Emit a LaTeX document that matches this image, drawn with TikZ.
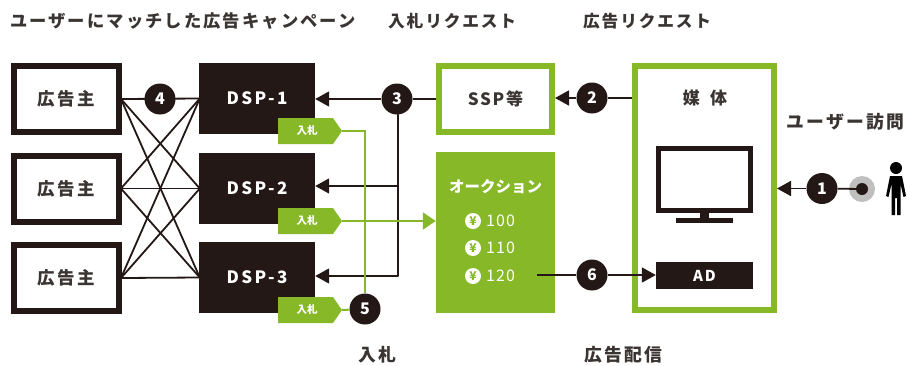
\documentclass[tikz,border=0pt]{standalone}
\usepackage{fontspec}
\setmainfont{Noto Sans CJK JP}
\usetikzlibrary{arrows.meta}
\definecolor{adgreen}{HTML}{86B828}
\definecolor{adblack}{HTML}{231815}
\definecolor{adtext}{HTML}{3A3533}
\newcommand{\bidtag}[2]{%
  \fill[adgreen] (278,#2-13) -- (333,#2-13) -- (342,#2) -- (333,#2+13) -- (278,#2+13) -- cycle;
  \node[taglabel] (#1) at (307,#2) {入札};
  \coordinate (#1tip) at (342,#2);}
\newcommand{\yen}[3]{%
  \node[yenmark] (#1) at (473,#2) {¥};
  \node[price,anchor=west] (#1v) at (486,#2) {#3};}
\tikzset{
  x=1pt,y=-1pt,
  owner/.style={draw=adblack,line width=6pt,fill=white,minimum width=105pt,minimum height=66pt,inner sep=0,font=\fontsize{17.5}{18}\selectfont\bfseries\addfontfeature{LetterSpace=13},text=adtext},
  dsp/.style={fill=adblack,minimum width=116pt,minimum height=71pt,inner sep=0,text=white,font=\fontsize{17}{17}\selectfont\bfseries\addfontfeature{LetterSpace=14}},
  greenbox/.style={draw=adgreen,line width=6pt,fill=white,inner sep=0},
  num/.style={circle,fill=adblack,minimum size=31pt,inner sep=0,text=white,font=\fontsize{16}{16}\selectfont\bfseries},
  heading/.style={text=adtext,inner sep=0,font=\fontsize{17.3}{18}\selectfont\bfseries\addfontfeature{LetterSpace=12}},
  headingb/.style={text=adtext,inner sep=0,font=\fontsize{16.7}{18}\selectfont\bfseries\addfontfeature{LetterSpace=11}},
  headingc/.style={text=adtext,inner sep=0,font=\fontsize{17.8}{18}\selectfont\bfseries\addfontfeature{LetterSpace=13}},
  taglabel/.style={text=white,inner sep=0,font=\fontsize{10.5}{10}\selectfont\bfseries},
  yenmark/.style={circle,fill=white,minimum size=16pt,inner sep=0,text=adgreen,font=\fontsize{12}{12}\selectfont\bfseries},
  price/.style={text=white,inner sep=0,font=\fontsize{16}{16}\selectfont\addfontfeature{LetterSpace=7}},
  wire/.style={draw=adblack,line width=1.8pt},
  greenwire/.style={draw=adgreen,line width=2pt},
  tri/.style={-{Triangle[length=14pt,width=15pt]}},
  grtri/.style={-{Triangle[length=13pt,width=17pt]}},
}
\begin{document}
\begin{tikzpicture}
\useasboundingbox (0,0) rectangle (908,365);
% headings
\node[heading,anchor=west] (h1) at (10,21) {ユーザーにマッチした広告キャンペーン};
\node[headingb,anchor=west] (h2) at (388,21) {入札リクエスト};
\node[headingb,anchor=west] (h3) at (583,21) {広告リクエスト};
\node[headingc,anchor=west] (h4) at (358,355) {入札};
\node[headingc,anchor=west] (h5) at (584,355) {広告配信};
\node[headingc,anchor=west] (h6) at (786,122) {ユーザー訪問};
% advertisers
\node[owner] (a1) at (66.5,99) {広告主};
\node[owner] (a2) at (66.5,188.5) {広告主};
\node[owner] (a3) at (66.5,278) {広告主};
% DSPs
\node[dsp] (d1) at (257,98.5) {DSP-1};
\node[dsp] (d2) at (257,188.5) {DSP-2};
\node[dsp] (d3) at (257,277.5) {DSP-3};
% mesh
\foreach \p in {a1,a2,a3}{\foreach \q in {d1,d2,d3}{
  \draw[wire] ([xshift=-1pt]\p.east) -- ([xshift=1pt]\q.west);}}
\node[num] (n4) at (160,99) {4};
% SSP, auction, media
\node[greenbox,minimum width=113pt,minimum height=66pt,text=adtext,font=\fontsize{17}{17}\selectfont\bfseries\addfontfeature{LetterSpace=10}] (ssp) at (495.5,99) {SSP等};
\node[fill=adgreen,minimum width=119pt,minimum height=161pt,inner sep=0] (auc) at (495.5,232.5) {};
\node[text=white,inner sep=0,font=\fontsize{15.5}{16}\selectfont\bfseries] (auct) at (495.5,187) {オークション};
\yen{y1}{221}{100}
\yen{y2}{248}{110}
\yen{y3}{276}{120}
\node[greenbox,minimum width=139pt,minimum height=244pt] (media) at (704.5,188) {};
\node[text=adtext,inner sep=0,font=\fontsize{17}{17}\selectfont\bfseries] (mediat) at (705,98) {媒\hspace{0.6em}体};
% TV
\node[draw=adblack,line width=5pt,fill=white,minimum width=92pt,minimum height=62pt,inner sep=0] (tv) at (704.5,179.5) {};
\fill[adblack] (700,212) rectangle (709,219);
\fill[adblack] (676,218) rectangle (733,223);
\node[fill=adblack,minimum width=97pt,minimum height=27pt,inner sep=0,text=white,font=\fontsize{15}{15}\selectfont\bfseries\addfontfeature{LetterSpace=12}] (ad) at (704.5,275.5) {AD};
% user
\node[circle,fill=black!25,minimum size=26pt,inner sep=0] (halo) at (862,189) {};
\node[circle,fill=adblack,minimum size=12pt,inner sep=0] (dot) at (862,189) {};
\node[circle,fill=black,minimum size=12pt,inner sep=0] (head) at (896,168) {};
\fill[black] (890,176) -- (902,176) -- (906,196) -- (903.5,197) -- (900.5,184) -- (900.5,215) -- (897,215) -- (897,198) -- (895,198) -- (895,215) -- (891.5,215) -- (891.5,184) -- (888.5,197) -- (886,196) -- cycle;
% black connectors
\node[num] (n3) at (397,99) {3};
\node[num] (n2) at (592,98) {2};
\node[num] (n1) at (822,188.5) {1};
\node[num] (n6) at (592,275) {6};
\coordinate (j2) at (398,186);
\coordinate (j3) at (398,276);
\coordinate (s6) at (537,275);
\draw[wire,tri] (n3) -- (d1.east |- n3);
\draw[wire] (n3) -- (ssp.west |- n3);
\draw[wire,line cap=round,line join=round] (n3.south -| j2) -- (j3);
\draw[wire,tri] (j2) -- (d2.east |- j2);
\draw[wire,tri] (j3) -- (d3.east |- j3);
\draw[wire,tri] (n2) -- (ssp.east |- n2);
\draw[wire] (n2) -- (media.west |- n2);
\draw[wire,tri] (n1) -- (media.east |- n1);
\draw[wire] (n1) -- (dot);
\draw[wire] (s6) -- (n6);
\draw[wire,tri] (n6) -- (ad.west |- n6);
% bids
\bidtag{t1}{131}
\bidtag{t2}{221}
\bidtag{t3}{310}
\node[num] (n5) at (365,309) {5};
\draw[greenwire] (t1tip) -| (n5);
\draw[greenwire,grtri] (t2tip) -- (auc.west |- t2tip);
\draw[greenwire] (t3tip) -- (n5);
\end{tikzpicture}
\end{document}
